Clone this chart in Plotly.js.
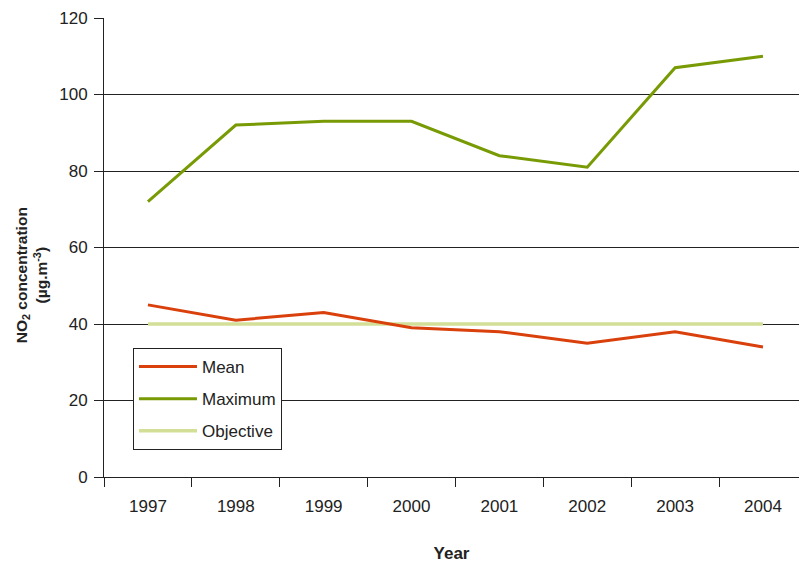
<!DOCTYPE html>
<html>
<head>
<meta charset="utf-8">
<script src="https://cdn.plot.ly/plotly-3.0.1.min.js"></script>
<style>html,body{margin:0;padding:0;background:#fff;}#chart{width:799px;height:565px;}</style>
</head>
<body>
<div id="chart"></div>
<script>
const years = ['1997','1998','1999','2000','2001','2002','2003','2004'];
const meanValues = [45, 41, 43, 39, 38, 35, 38, 34];
const maximumValues = [72, 92, 93, 93, 84, 81, 107, 110];
const objectiveValues = [40, 40, 40, 40, 40, 40, 40, 40];

const FONT = 'Liberation Sans, Arial, sans-serif';

const traces = [
  {x: years, y: objectiveValues, name: 'Objective', mode: 'lines', legendgroup: 'c', legendrank: 3,
   line: {color: '#d3df97', width: 3.5}},
  {x: years, y: meanValues, name: 'Mean', mode: 'lines', legendgroup: 'a', legendrank: 1,
   line: {color: '#d9400b', width: 3}},
  {x: years, y: maximumValues, name: 'Maximum', mode: 'lines', legendgroup: 'b', legendrank: 2,
   line: {color: '#789b05', width: 3}}
];

const layout = {
  width: 799, height: 565,
  margin: {l: 104, r: 0, t: 18, b: 88},
  paper_bgcolor: '#fff', plot_bgcolor: '#fff',
  font: {family: FONT, color: '#222', size: 17},
  showlegend: true,
  legend: {
    x: 0.0417, y: 0.281, xanchor: 'left', yanchor: 'top',
    bordercolor: '#222', borderwidth: 1, bgcolor: '#fff',
    font: {family: FONT, size: 17, color: '#222'},
    tracegroupgap: 7, itemwidth: 58, traceorder: 'grouped'
  },
  xaxis: {
    type: 'category', range: [-0.5, 7.41],
    tickson: 'boundaries', ticks: 'outside', ticklen: 9, tickcolor: '#222',
    showline: true, linecolor: '#222', linewidth: 1,
    showgrid: false, zeroline: false,
    tickfont: {family: FONT, size: 17, color: '#222'},
    ticklabelstandoff: 14,
    title: {text: '<b>Year</b>', font: {family: FONT, size: 17, color: '#222'}, standoff: 31}
  },
  yaxis: {
    range: [0, 120], dtick: 20, tick0: 0,
    ticks: 'outside', ticklen: 9, tickcolor: '#222',
    showline: true, linecolor: '#222', linewidth: 1,
    showgrid: true, gridcolor: '#222', gridwidth: 1, zeroline: false,
    tickfont: {family: FONT, size: 17, color: '#222'},
    ticklabelstandoff: 3
  },
  annotations: [{
    xref: 'paper', yref: 'paper', x: -0.104, y: 0.439, xanchor: 'center', yanchor: 'middle',
    textangle: -90, showarrow: false, align: 'center',
    text: '<b>NO<sub>2</sub> concentration<br>(µg.m<sup>-3</sup>)</b>',
    font: {family: FONT, size: 15.5, color: '#222'}
  }]
};

Plotly.newPlot('chart', traces, layout, {displayModeBar: false, staticPlot: true});
</script>
</body>
</html>
